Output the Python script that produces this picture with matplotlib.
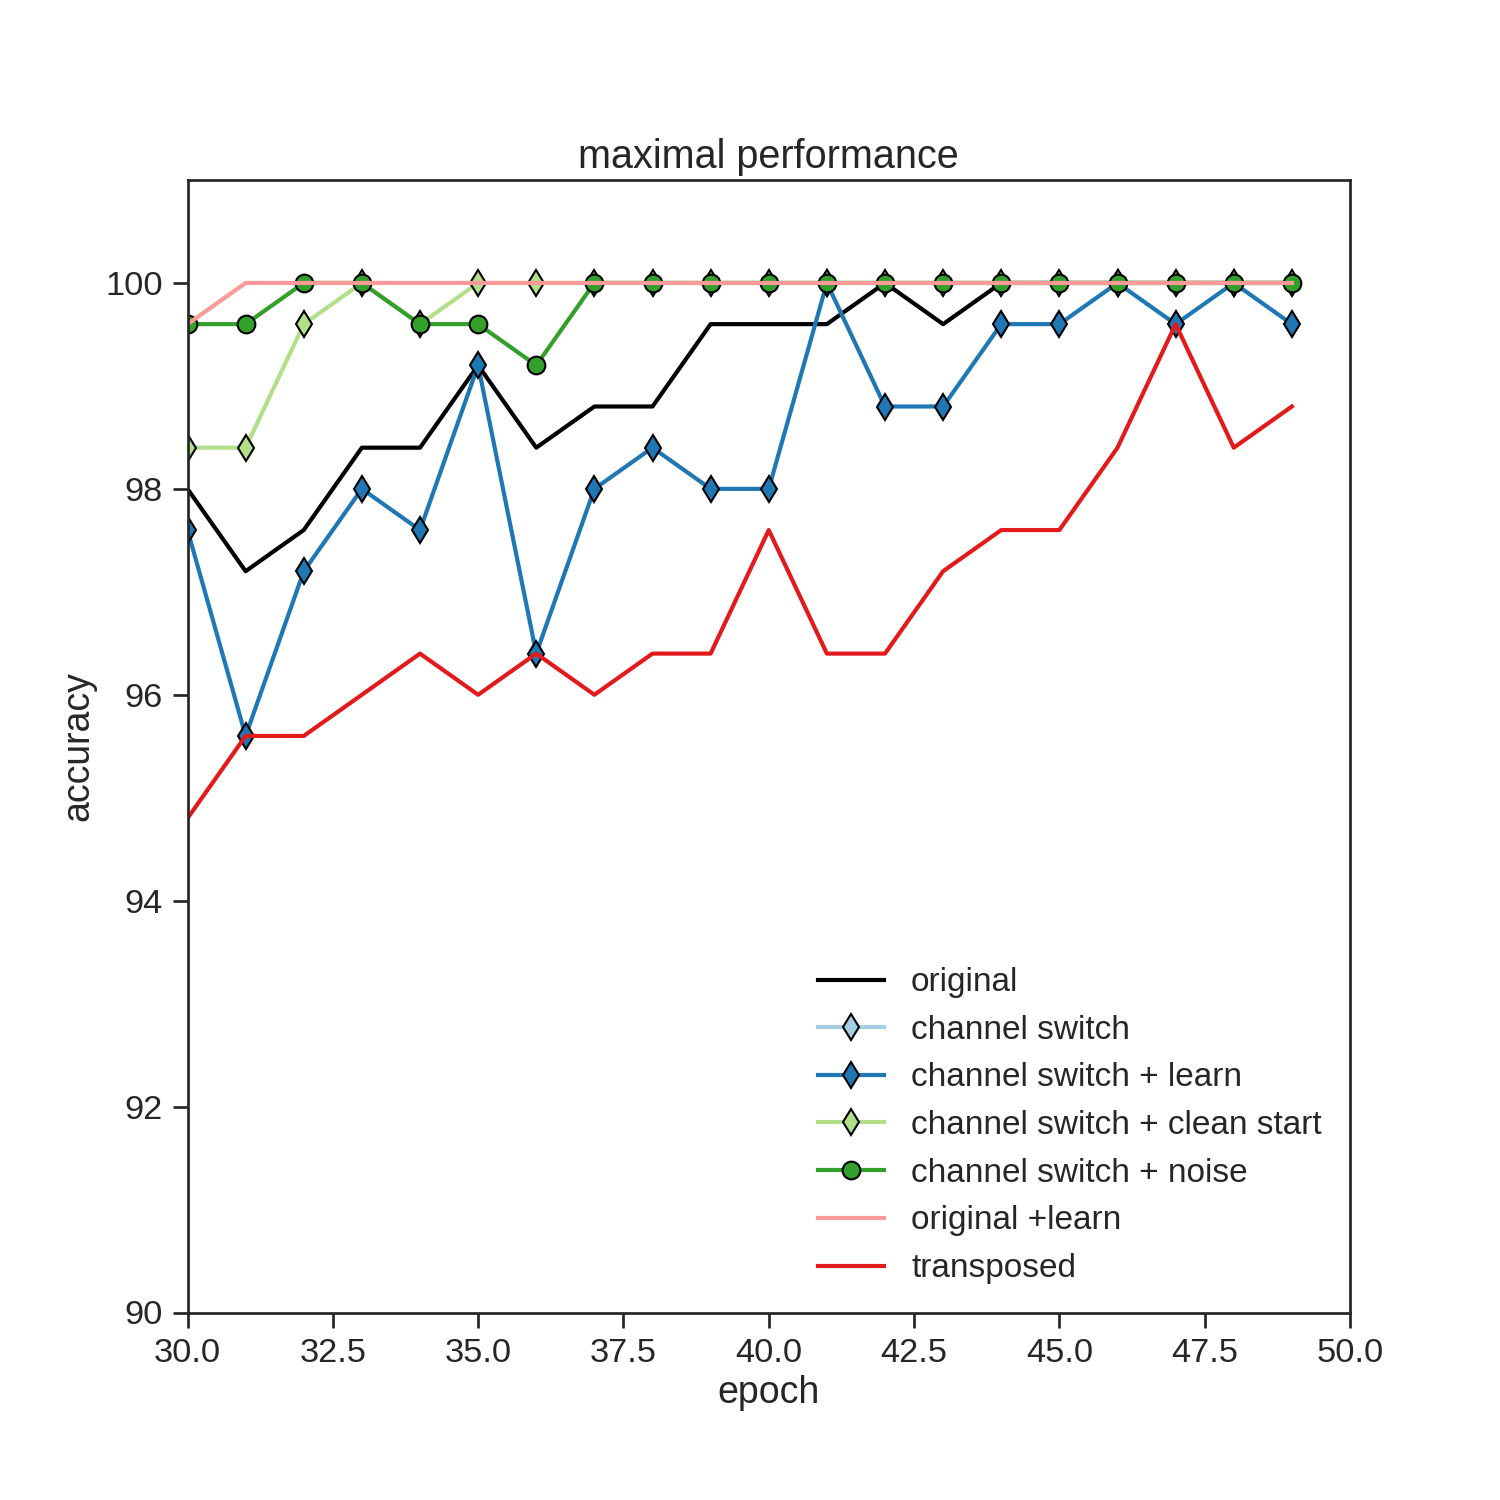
# plot.py
# maximal performance per epoch for several training variants

import numpy as np
import matplotlib
matplotlib.use('Agg')
import matplotlib.pyplot as plt

plt.rcParams['font.family'] = ['Liberation Sans', 'DejaVu Sans']
plt.rcParams['font.size'] = 16
plt.rcParams['text.color'] = '#262626'
plt.rcParams['axes.labelcolor'] = '#262626'
plt.rcParams['xtick.color'] = '#262626'
plt.rcParams['ytick.color'] = '#262626'
plt.rcParams['axes.edgecolor'] = '#262626'

# ── data ──
epochs = list(range(30, 50))

original = [98.0, 97.2, 97.6, 98.4, 98.4, 99.2, 98.4, 98.8, 98.8, 99.6,
            99.6, 99.6, 100, 99.6, 100, 100, 100, 100, 100, 100]
channel_switch = []  # listed in the legend, nothing visible on the plot
switch_learn = [97.6, 95.6, 97.2, 98.0, 97.6, 99.2, 96.4, 98.0, 98.4, 98.0,
                98.0, 100, 98.8, 98.8, 99.6, 99.6, 100, 99.6, 100, 99.6]
switch_clean = [98.4, 98.4, 99.6, 100, 99.6, 100, 100, 100, 100, 100,
                100, 100, 100, 100, 100, 100, 100, 100, 100, 100]
switch_noise = [99.6, 99.6, 100, 100, 99.6, 99.6, 99.2, 100, 100, 100,
                100, 100, 100, 100, 100, 100, 100, 100, 100, 100]
original_learn = [99.6, 100, 100, 100, 100, 100, 100, 100, 100, 100,
                  100, 100, 100, 100, 100, 100, 100, 100, 100, 100]
transposed = [94.8, 95.6, 95.6, 96.0, 96.4, 96.0, 96.4, 96.0, 96.4, 96.4,
              97.6, 96.4, 96.4, 97.2, 97.6, 97.6, 98.4, 99.6, 98.4, 98.8]

y_ticks = [90, 92, 94, 96, 98, 100]
x_ticks = np.arange(30, 50.1, 2.5)

fig, ax = plt.subplots(figsize=(10, 10))
fig.subplots_adjust(left=0.125, right=0.9, top=0.88, bottom=0.125)

lw = 2.0
ms = 8.5
ax.plot(epochs, original, color='black', lw=lw, label='original')
ax.plot(channel_switch, channel_switch, color='#a6cee3', lw=lw,
        marker='d', ms=ms, mec='black', mew=1, label='channel switch')
ax.plot(epochs, switch_learn, color='#1f78b4', lw=lw,
        marker='d', ms=ms, mec='black', mew=1, label='channel switch + learn')
ax.plot(epochs, switch_clean, color='#b2df8a', lw=lw,
        marker='d', ms=ms, mec='black', mew=1, label='channel switch + clean start')
ax.plot(epochs, switch_noise, color='#33a02c', lw=lw,
        marker='o', ms=ms, mec='black', mew=1, label='channel switch + noise')
ax.plot(epochs, original_learn, color='#fb9a99', lw=lw, label='original +learn')
ax.plot(epochs, transposed, color='#e31a1c', lw=lw, label='transposed')

ax.set_xlim(30, 50)
ax.set_ylim(90, 101)
ax.set_xticks(x_ticks)
ax.set_xticklabels([f'{t:.1f}' for t in x_ticks])
ax.set_yticks(y_ticks)
ax.tick_params(direction='out', length=7, width=1.3, pad=5, labelsize=16.5)
for s in ax.spines.values():
    s.set_linewidth(1.3)

ax.set_title('maximal performance', fontsize=19, pad=6)
ax.set_xlabel('epoch', fontsize=18, labelpad=3)
ax.set_ylabel('accuracy', fontsize=18)

ax.legend(loc='lower right', frameon=False, fontsize=16,
          borderaxespad=0.45, labelspacing=0.5, handlelength=2.0)

plt.savefig('out.png', dpi=150, facecolor='white')
plt.close()
